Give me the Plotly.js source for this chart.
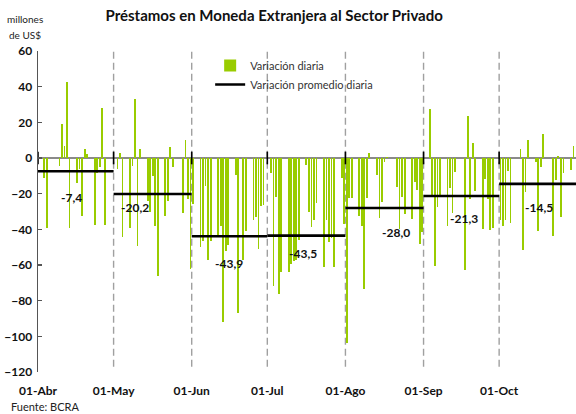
<!DOCTYPE html>
<html>
<head>
<meta charset="utf-8">
<script src="https://cdn.plot.ly/plotly-3.0.1.min.js"></script>
<style>html,body{margin:0;padding:0;background:#fff;}#chart{width:576px;height:414px;}</style>
</head>
<body>
<div id="chart"></div>
<script>
// ---- Data ----
const monthStarts = ["2007-04-01","2007-05-01","2007-06-01","2007-07-01","2007-08-01","2007-09-01","2007-10-01"];
const monthLabels = ["01-Abr","01-May","01-Jun","01-Jul","01-Ago","01-Sep","01-Oct"];
const xEnd = "2007-10-31 12:00";
const averages = [-7.4, -20.2, -43.9, -43.5, -28.0, -21.3, -14.5];

const aprDates = ["2007-04-03","2007-04-04","2007-04-09","2007-04-10","2007-04-11","2007-04-12","2007-04-13","2007-04-16","2007-04-17","2007-04-18","2007-04-19","2007-04-20","2007-04-23","2007-04-24","2007-04-25","2007-04-26","2007-04-27"];
const aprValues = [-11, -39, -4.5, 19, 7, 42.5, -39, -14, -6, -32.6, 5, 2, -37.5, -8.5, -5, 28, -37.5];

const mayDates = ["2007-05-02","2007-05-03","2007-05-04","2007-05-07","2007-05-08","2007-05-09","2007-05-10","2007-05-11","2007-05-14","2007-05-15","2007-05-16","2007-05-17","2007-05-18","2007-05-21","2007-05-22","2007-05-23","2007-05-24","2007-05-28","2007-05-29","2007-05-30","2007-05-31"];
const mayValues = [-6, 3, -44.5, -39.4, -4.5, 33, -49.5, 5, -24, -30, -10, -38, -66, -32.6, -24, 6, -5, -31, 10, -23, -62];

const junDates = ["2007-06-01","2007-06-04","2007-06-05","2007-06-06","2007-06-07","2007-06-08","2007-06-11","2007-06-12","2007-06-13","2007-06-14","2007-06-15","2007-06-18","2007-06-19","2007-06-21","2007-06-22","2007-06-25","2007-06-26","2007-06-27","2007-06-28","2007-06-29"];
const junValues = [-26, -50, -46.7, -15.8, -57, -46.7, -44, -38, -91.7, -52, -49, -9.8, -87, -57, -40.7, -34.5, -33, -51, -27, -26.6];

const julDates = ["2007-07-02","2007-07-03","2007-07-04","2007-07-05","2007-07-06","2007-07-09","2007-07-10","2007-07-11","2007-07-12","2007-07-13","2007-07-16","2007-07-17","2007-07-18","2007-07-19","2007-07-20","2007-07-23","2007-07-24","2007-07-25","2007-07-26","2007-07-27","2007-07-30","2007-07-31"];
const julValues = [-8.6, -72, -21.6, -76.5, -64, -64, -59.6, -57.6, -57, -46, -3.8, -30, -38.6, -34.7, -25, -61, -34.7, -47, -45, -61, -11.4, -36.8];

const agoDates = ["2007-08-01","2007-08-02","2007-08-03","2007-08-06","2007-08-07","2007-08-08","2007-08-09","2007-08-10","2007-08-13","2007-08-14","2007-08-15","2007-08-16","2007-08-17","2007-08-21","2007-08-22","2007-08-23","2007-08-24","2007-08-27","2007-08-28","2007-08-29","2007-08-30","2007-08-31"];
const agoValues = [-103.7, -22.5, -22.5, -32.8, -38, -73.7, -22.5, 2.8, -9.6, -33.4, -24.4, -2.3, 0.8, -16.5, -40, -22, -31.5, -34.3, -13.5, -18, -48, -41.5];

const sepDates = ["2007-09-03","2007-09-04","2007-09-05","2007-09-06","2007-09-07","2007-09-10","2007-09-11","2007-09-12","2007-09-13","2007-09-17","2007-09-18","2007-09-19","2007-09-20","2007-09-21","2007-09-24","2007-09-25","2007-09-26","2007-09-27","2007-09-28"];
const sepValues = [27.5, -21, -60.8, -27.5, -22, -38, -17, -31, -8, -63, 23.7, -23, 8.5, -18.5, -40, -11.6, -23, -40.5, -39];

const octDates = ["2007-10-01","2007-10-02","2007-10-03","2007-10-04","2007-10-05","2007-10-09","2007-10-10","2007-10-11","2007-10-12","2007-10-15","2007-10-16","2007-10-17","2007-10-18","2007-10-22","2007-10-23","2007-10-24","2007-10-25","2007-10-26","2007-10-29","2007-10-30"];
const octValues = [-35, -38, -34.5, -7.3, -36.6, 4.9, -51.6, -19, 10, -2.3, -40.7, -5, 13.3, -43.9, -12.6, 1, -33, -8.4, -7, 7];

const yTicks = [60, 40, 20, 0, -20, -40, -60, -80, -100, -120];

// ---- Build ----
const dates = [].concat(aprDates, mayDates, junDates, julDates, agoDates, sepDates, octDates);
const values = [].concat(aprValues, mayValues, junValues, julValues, agoValues, sepValues, octValues);

const monthEnds = monthStarts.slice(1).concat([xEnd]);
const segX = [], segY = [];
averages.forEach((a, i) => { segX.push(monthStarts[i], monthEnds[i], null); segY.push(a, a, null); });

const DAY = 86400000;
const FONT = "Lato, 'DejaVu Sans', sans-serif";

const bars = {
  type: 'bar', name: 'Variación diaria', x: dates, y: values,
  xperiod: DAY, xperiodalignment: 'middle',
  width: 0.7 * DAY, marker: {color: '#99CC00', line: {width: 0}},
  hoverinfo: 'x+y'
};
const avgLine = {
  type: 'scatter', mode: 'lines', name: 'Variación promedio diaria',
  x: segX, y: segY, line: {color: '#000', width: 2.6}, connectgaps: false
};
const monthTicks = {
  type: 'scatter', mode: 'markers', showlegend: false, hoverinfo: 'skip',
  x: monthStarts, y: monthStarts.map(() => 0), cliponaxis: false,
  marker: {symbol: 'line-ns-open', size: 9, color: '#000', line: {width: 1.6, color: '#000'}}
};

// label placement (layout only)
const labelPos = [
  {x: "2007-04-14 07:00", y: -22},
  {x: "2007-05-09 14:00", y: -27.6},
  {x: "2007-06-15 19:00", y: -59},
  {x: "2007-07-15 05:00", y: -53.5},
  {x: "2007-08-21 05:00", y: -41.7},
  {x: "2007-09-17 05:00", y: -33.8},
  {x: "2007-10-16 22:00", y: -27.6}
];
const annotations = averages.map((a, i) => ({
  x: labelPos[i].x, y: labelPos[i].y, xref: 'x', yref: 'y', showarrow: false,
  text: a.toFixed(1).replace('.', ','), xanchor: 'center', yanchor: 'middle',
  font: {family: FONT, size: 12, color: '#111', weight: 'bold'}
}));
annotations.push(
  {xref: 'paper', yref: 'paper', x: -0.024, y: 1.0997, text: 'millones', showarrow: false, xanchor: 'center', yanchor: 'middle', font: {family: FONT, size: 10, color: '#222'}},
  {xref: 'paper', yref: 'paper', x: -0.024, y: 1.0498, text: 'de US$', showarrow: false, xanchor: 'center', yanchor: 'middle', font: {family: FONT, size: 10, color: '#222'}},
  {xref: 'paper', yref: 'paper', x: -0.054, y: -0.109, text: 'Fuente: BCRA', showarrow: false, xanchor: 'left', yanchor: 'middle', font: {family: FONT, size: 11, color: '#222'}}
);

const shapes = monthStarts.slice(1).map(d => ({
  type: 'line', layer: 'below', xref: 'x', yref: 'y', x0: d, x1: d, y0: -117, y1: 60,
  line: {color: '#A0A0A0', width: 1.4, dash: '7px,4px'}
}));

const layout = {
  width: 576, height: 414,
  margin: {l: 38, r: 0, t: 51, b: 42, pad: 0},
  paper_bgcolor: '#fff', plot_bgcolor: '#fff',
  font: {family: FONT, color: '#222'},
  title: {text: 'Préstamos en Moneda Extranjera al Sector Privado', xref: 'container', yref: 'container', x: 0.476, y: 0.961, xanchor: 'center', yanchor: 'middle', font: {family: FONT, size: 15, color: '#111', weight: 'bold'}},
  showlegend: true,
  legend: {x: 0.32, y: 1.0, xanchor: 'left', yanchor: 'top', bgcolor: 'rgba(0,0,0,0)', itemwidth: 30, font: {family: FONT, size: 11, color: '#333'}, tracegroupgap: 0},
  bargap: 0,
  xaxis: {
    type: 'date', range: [monthStarts[0], xEnd], tickmode: 'array', tickvals: monthStarts, ticktext: monthLabels,
    showgrid: false, showline: false, zeroline: false, ticks: '', ticklabelstandoff: 10,
    tickfont: {family: FONT, size: 12, color: '#111', weight: 'bold'}, fixedrange: true
  },
  yaxis: {
    range: [-120, 60], tickmode: 'array', tickvals: yTicks, showgrid: false,
    showline: true, linecolor: '#555', linewidth: 1.5, ticks: 'inside', ticklen: 4, tickcolor: '#555', tickwidth: 1.2,
    zeroline: true, zerolinecolor: '#8a8a8a', zerolinewidth: 2, ticklabelstandoff: 2,
    tickfont: {family: FONT, size: 12, color: '#111', weight: 'bold'}, fixedrange: true
  },
  shapes: shapes,
  annotations: annotations
};

Plotly.newPlot('chart', [bars, avgLine, monthTicks], layout, {displayModeBar: false, staticPlot: true});
</script>
</body>
</html>
